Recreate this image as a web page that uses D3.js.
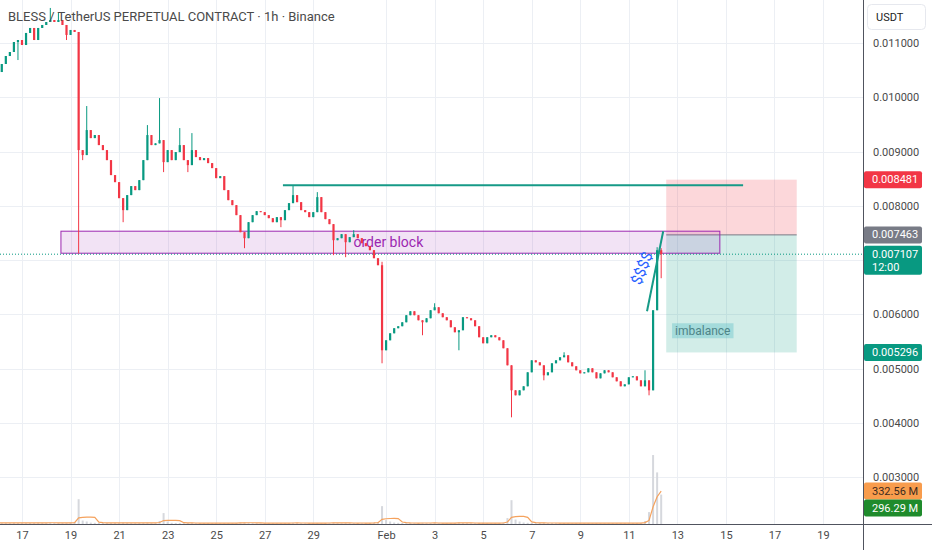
<!DOCTYPE html>
<html><head><meta charset="utf-8">
<script src="https://cdn.jsdelivr.net/npm/d3@7"></script>
<style>html,body{margin:0;padding:0;background:#fff;overflow:hidden}svg{display:block;font-family:Roboto,"Noto Sans",sans-serif}</style>
</head><body><svg id="c" width="932" height="550"></svg>
<script>
// ---------- DATA ----------
const title = "BLESS / TetherUS PERPETUAL CONTRACT · 1h · Binance";
const startTime = Date.UTC(2025,0,16,0);
const stepHours = 4;
const firstOpen = 0.010410;
const closes = [
0.010465,0.010613,0.010760,0.010834,0.011018,0.011055,0.010963,0.011185,0.011277,0.011055,
0.011277,0.011332,0.011387,0.011424,0.011387,0.011424,0.011332,0.011148,0.011240,0.011203,
0.009026,0.008934,0.009395,0.009247,0.009303,0.009118,0.009026,0.008841,0.008565,0.008435,
0.008140,0.007919,0.008196,0.008362,0.008288,0.008472,0.008841,0.009303,0.009118,0.009150,
0.009210,0.008804,0.009026,0.008841,0.008989,0.009118,0.008841,0.008749,0.009026,0.008897,
0.008841,0.008878,0.008786,0.008694,0.008509,0.008546,0.008288,0.008103,0.008011,0.007827,
0.007513,0.007402,0.007697,0.007827,0.007900,0.007882,0.007827,0.007771,0.007697,0.007790,
0.007734,0.007919,0.008048,0.008196,0.008066,0.007919,0.007882,0.007790,0.007882,0.008159,
0.007882,0.007753,0.007661,0.007365,0.007402,0.007476,0.007328,0.007421,0.007476,0.007402,
0.007310,0.007255,0.007181,0.007033,0.006904,0.005336,0.005520,0.005649,0.005742,0.005779,
0.005852,0.005982,0.006055,0.005982,0.005889,0.005852,0.005926,0.006074,0.006129,0.006018,
0.005945,0.005889,0.005760,0.005668,0.005705,0.005945,0.005926,0.005889,0.005779,0.005576,
0.005465,0.005576,0.005613,0.005576,0.005520,0.005373,0.005059,0.004598,0.004506,0.004598,
0.004672,0.004930,0.005151,0.005114,0.005059,0.004875,0.004930,0.005096,0.005151,0.005207,
0.005244,0.005114,0.005041,0.004967,0.004911,0.004930,0.005004,0.004930,0.004819,0.004911,
0.004967,0.004930,0.004838,0.004764,0.004672,0.004708,0.004838,0.004856,0.004782,0.004672,
0.004782,0.004598,0.006074,0.007181,0.007107
];
const highWicks = [[0,0.010649],[13,0.011646],[15,0.011554],[22,0.009838],[37,0.009487],[40,0.009985],
[45,0.009432],[48,0.009339],[73,0.008380],[79,0.008251],[88,0.007550],[95,0.006967],[108,0.006203],
[140,0.005299],[160,0.004967],[163,0.007236],[164,0.007218]];
const lowWicks = [[0,0.010410],[5,0.010686],[17,0.011055],[20,0.007120],[21,0.008841],[31,0.007697],
[41,0.008620],[47,0.008620],[61,0.007218],[70,0.007605],[83,0.007089],[86,0.007052],[95,0.005096],
[105,0.005613],[114,0.005336],[127,0.004100],[135,0.004782],[161,0.004506],[164,0.006664]];
const volumes = [
12,10,11,9,13,10,12,9,11,10,
14,12,11,15,10,9,12,11,15,20,
250,35,25,14,12,10,11,9,10,12,
11,15,12,10,9,10,12,14,10,9,
30,110,25,12,10,11,9,10,12,9,
8,9,10,9,10,8,9,10,9,11,
14,16,12,10,9,8,9,10,9,8,
10,9,10,13,10,9,8,9,10,11,
9,10,11,14,10,9,12,9,10,9,
10,9,11,13,20,180,40,25,15,12,
10,9,10,9,10,12,9,10,11,9,
8,9,10,11,14,10,9,8,9,11,
12,9,8,9,10,14,60,240,45,25,
15,12,10,9,10,12,9,10,9,8,
10,9,8,9,10,8,9,8,10,9,
8,9,10,9,11,9,8,9,10,12,
30,120,695,520,296.29
];
const maPeriod = 5;
const xTickDates = ["2025-01-17","2025-01-19","2025-01-21","2025-01-23","2025-01-25","2025-01-27","2025-01-29",
"2025-02-01","2025-02-03","2025-02-05","2025-02-07","2025-02-09","2025-02-11","2025-02-13","2025-02-15","2025-02-17","2025-02-19"];
const xTickLabels = ["17","19","21","23","25","27","29","Feb","3","5","7","9","11","13","15","17","19"];
const yTicks = [0.003,0.004,0.005,0.006,0.007,0.008,0.009,0.010,0.011];
// annotations
const orderBlockTime = ["2025-01-18T14:30Z","2025-02-14T18:00Z"];
const orderBlockPrice = [0.007531,0.007125];
const orderBlockLabel = "order block";
const levelLineTime = ["2025-01-27T18:00Z","2025-02-15T17:00Z"];
const levelLinePrice = 0.00838;
const trendTime = ["2025-02-11T18:00Z","2025-02-12T10:00Z"];
const trendPrice = [0.006055,0.007531];
const positionTime = ["2025-02-12T13:00Z","2025-02-17T22:00Z"];
const positionPrices = [0.008481,0.007463,0.005296]; // stop, entry, target
const dollarNote = ["$$$$","2025-02-11T13:00Z",0.006849];
const imbalanceNote = ["imbalance","2025-02-12T18:45Z",0.005696];
const lastPrice = 0.007107;
const priceTagValues = [0.008481,0.007463,0.007107,0.005296];
const priceTagSub = ["","","12:00",""];
const priceTagColors = ["#f23645","#787b86","#089981","#089981"];
const volTagValues = [332.56,296.29];
const volTagText = ["332.56 M","296.29 M"];
const volTagColors = ["#f89c4c","#1f8b2c"];
const volTagTextColors = ["#3b2a1e","#ffffff"];
const currency = "USDT";

// ---------- CHART ----------
const W=932,H=550,plotR=863,plotB=524;
const svg=d3.select("#c");
const x=d3.scaleUtc().domain([new Date("2025-01-17"),new Date("2025-02-19")]).range([22,823]);
const y=d3.scaleLinear().domain([0.003,0.011]).range([477,43]);
const vy=d3.scaleLinear().domain([0,332.56]).range([plotB,491]);
const t=i=>new Date(startTime+i*stepHours*3600e3);
const hiMap=new Map(highWicks), loMap=new Map(lowWicks);
const candles=closes.map((c,i)=>{const o=i===0?firstOpen:closes[i-1];
  return {t:t(i),o,c,h:hiMap.has(i)?hiMap.get(i):Math.max(o,c),l:loMap.has(i)?loMap.get(i):Math.min(o,c),v:volumes[i]};});

svg.append("defs").append("clipPath").attr("id","plot").append("rect").attr("x",0).attr("y",0).attr("width",plotR).attr("height",plotB);

// grid
const grid=svg.append("g").attr("stroke","#eceff4").attr("stroke-width",1);
xTickDates.forEach(d=>{const xx=Math.round(x(new Date(d)))+0.5;grid.append("line").attr("x1",xx).attr("x2",xx).attr("y1",0).attr("y2",plotB);});
yTicks.forEach(v=>{const yy=Math.round(y(v))+0.5;grid.append("line").attr("x1",0).attr("x2",plotR).attr("y1",yy).attr("y2",yy);});

const plot=svg.append("g").attr("clip-path","url(#plot)");

// position tool
const px0=x(new Date(positionTime[0])),px1=x(new Date(positionTime[1]));
plot.append("rect").attr("x",px0).attr("width",px1-px0).attr("y",y(positionPrices[0])).attr("height",y(positionPrices[1])-y(positionPrices[0])).attr("fill","rgba(242,54,69,0.2)");
plot.append("rect").attr("x",px0).attr("width",px1-px0).attr("y",y(positionPrices[1])).attr("height",y(positionPrices[2])-y(positionPrices[1])).attr("fill","rgba(8,153,129,0.18)");
plot.append("line").attr("x1",px0).attr("x2",px1).attr("y1",y(positionPrices[1])).attr("y2",y(positionPrices[1])).attr("stroke","#787b86").attr("stroke-width",1);

// order block
const ob0=x(new Date(orderBlockTime[0])),ob1=x(new Date(orderBlockTime[1]));
plot.append("rect").attr("x",ob0).attr("width",ob1-ob0).attr("y",y(orderBlockPrice[0])).attr("height",y(orderBlockPrice[1])-y(orderBlockPrice[0]))
 .attr("fill","rgba(156,39,176,0.13)").attr("stroke","#9c27b0").attr("stroke-width",1);
plot.append("text").attr("x",(ob0+ob1)/2-2).attr("y",(y(orderBlockPrice[0])+y(orderBlockPrice[1]))/2+5).attr("text-anchor","middle")
 .attr("font-size",14).attr("fill","#9c27b0").text(orderBlockLabel);

// last price dotted line
plot.append("line").attr("x1",0).attr("x2",plotR).attr("y1",y(lastPrice)).attr("y2",y(lastPrice)).attr("stroke","#089981").attr("stroke-width",1).attr("stroke-dasharray","1,2");

// volume
plot.append("g").selectAll("rect").data(candles).join("rect")
 .attr("x",d=>x(d.t)-1).attr("width",2).attr("y",d=>vy(d.v)).attr("height",d=>plotB-vy(d.v)).attr("fill","#d6d8dd");
const ma=candles.map((d,i)=>{const s=volumes.slice(Math.max(0,i-maPeriod+1),i+1);return {t:d.t,v:d3.mean(s)};});
plot.append("path").datum(ma).attr("d",d3.line().x(d=>x(d.t)).y(d=>vy(d.v))).attr("fill","none").attr("stroke","#f5a25d").attr("stroke-width",1.2);

// candles
const cg=plot.append("g");
candles.forEach(d=>{const col=d.c>=d.o?"#089981":"#f23645";const cx=x(d.t);
 cg.append("line").attr("x1",cx).attr("x2",cx).attr("y1",y(d.h)).attr("y2",y(d.l)).attr("stroke",col).attr("stroke-width",1);
 const top=y(Math.max(d.o,d.c)),bot=y(Math.min(d.o,d.c));
 cg.append("rect").attr("x",cx-1.1).attr("width",2.2).attr("y",top).attr("height",Math.max(1,bot-top)).attr("fill",col);
});

// level line
plot.append("line").attr("x1",x(new Date(levelLineTime[0]))).attr("x2",x(new Date(levelLineTime[1]))).attr("y1",y(levelLinePrice)).attr("y2",y(levelLinePrice)).attr("stroke","#169a87").attr("stroke-width",2);
// trend line
plot.append("line").attr("x1",x(new Date(trendTime[0]))).attr("x2",x(new Date(trendTime[1]))).attr("y1",y(trendPrice[0])).attr("y2",y(trendPrice[1])).attr("stroke","#169a87").attr("stroke-width",2);
// $$$$
const dx=x(new Date(dollarNote[1])),dy=y(dollarNote[2]);
plot.append("text").attr("transform",`translate(${dx},${dy}) rotate(-68)`).attr("text-anchor","middle").attr("dominant-baseline","central")
 .attr("font-size",15).attr("fill","#2962ff").text(dollarNote[0]);
// imbalance
const ix=x(new Date(imbalanceNote[1])),iy=y(imbalanceNote[2]);
const itxt=plot.append("text").attr("x",ix+3).attr("y",iy).attr("dominant-baseline","central").attr("font-size",12).attr("fill","#4e8487").text(imbalanceNote[0]);
const bb=itxt.node().getBBox();
plot.insert("rect","text:last-child").attr("x",ix).attr("y",iy-7.5).attr("width",bb.width+6).attr("height",15).attr("fill","rgba(80,185,195,0.35)");
itxt.raise();

// axes lines
svg.append("line").attr("x1",plotR+0.5).attr("x2",plotR+0.5).attr("y1",0).attr("y2",H).attr("stroke","#50535e");
svg.append("line").attr("x1",0).attr("x2",W).attr("y1",plotB+0.5).attr("y2",plotB+0.5).attr("stroke","#50535e");

// tag extents (to hide tick labels hidden behind tags)
const tagBoxes=priceTagValues.map((v,i)=>[y(v)-8.5,y(v)-8.5+(priceTagSub[i]?29:17)]);
// y axis
const ya=svg.append("g").attr("transform",`translate(${plotR},0)`).call(d3.axisRight(y).tickValues(yTicks).tickFormat(d3.format(".6f")).tickSize(0).tickPadding(10));
ya.select(".domain").remove();
ya.selectAll(".tick").filter(d=>tagBoxes.some(b=>y(d)+6>b[0]&&y(d)-6<b[1])).remove();
ya.selectAll("text").attr("font-size",11).attr("fill","#4a4a4a").attr("font-family","Roboto");
// x axis
const xa=svg.append("g").attr("transform",`translate(0,${plotB})`).call(d3.axisBottom(x).tickValues(xTickDates.map(d=>new Date(d))).tickFormat((d,i)=>xTickLabels[i]).tickSize(0).tickPadding(7));
xa.select(".domain").remove();
xa.selectAll("text").attr("font-size",11).attr("fill","#4a4a4a").attr("font-family","Roboto");

// price tags
priceTagValues.forEach((v,i)=>{const yc=y(v);const sub=priceTagSub[i];const h=sub?29:17;
 svg.append("rect").attr("x",plotR+1).attr("y",yc-8.5).attr("width",58).attr("height",h).attr("rx",2).attr("fill",priceTagColors[i]);
 svg.append("text").attr("x",plotR+9).attr("y",yc).attr("dominant-baseline","central").attr("font-size",11).attr("fill","#fff").text(d3.format(".6f")(v));
 if(sub)svg.append("text").attr("x",plotR+9).attr("y",yc+13).attr("dominant-baseline","central").attr("font-size",11).attr("fill","#fff").text(sub);
});
let prevY=-1e9;
volTagValues.forEach((v,i)=>{let yc=Math.max(vy(v),prevY+17);prevY=yc;
 svg.append("rect").attr("x",plotR+1).attr("y",yc-8.5).attr("width",58).attr("height",17).attr("rx",2).attr("fill",volTagColors[i]);
 svg.append("text").attr("x",plotR+9).attr("y",yc).attr("dominant-baseline","central").attr("font-size",11).attr("fill",volTagTextColors[i]).text(volTagText[i]);
});
// currency box
svg.append("rect").attr("x",867.5).attr("y",4.5).attr("width",58).attr("height",25).attr("rx",4).attr("fill","#fff").attr("stroke","#e6e8ee");
svg.append("text").attr("x",876).attr("y",17).attr("dominant-baseline","central").attr("font-size",11).attr("fill","#222").text(currency);

// title
svg.append("text").attr("x",8).attr("y",21).attr("font-size",13).attr("fill","#4a4a4a").text(title);
</script></body></html>
